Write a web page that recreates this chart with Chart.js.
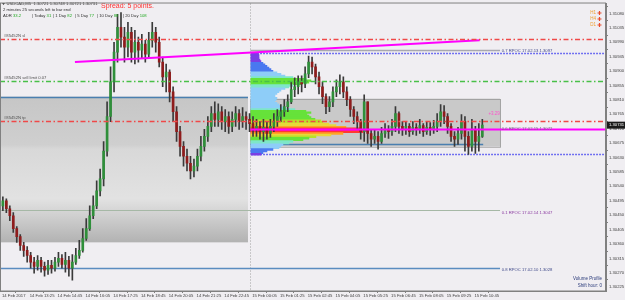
<!DOCTYPE html>
<html>
<head>
<meta charset="utf-8">
<script src="https://cdn.jsdelivr.net/npm/chart.js@4.4.0/dist/chart.umd.min.js"></script>
<style>
  html, body { margin: 0; padding: 0; background: #f0eef2; }
  #wrap { width: 625px; height: 300px; }
</style>
</head>
<body>
<div id="wrap"><canvas id="chart" width="625" height="300"></canvas></div>
<script>
// USDCAD M5, 14-15 Feb 2017 - one candle per two M5 bars (10 min)
const firstOpen = 1.30479;
const closes = [
  1.30495, 1.30470, 1.30448, 1.30408, 1.30383, 1.30355, 1.30340, 1.30324, 1.30303, 1.30290,
  1.30309, 1.30290, 1.30278, 1.30293, 1.30284, 1.30303, 1.30315, 1.30296, 1.30309, 1.30284,
  1.30303, 1.30324, 1.30340, 1.30377, 1.30408, 1.30448, 1.30479, 1.30526, 1.30563, 1.30650,
  1.30758, 1.30866, 1.30959, 1.31037, 1.31006, 1.30975, 1.31021, 1.30959, 1.30990, 1.30965,
  1.30984, 1.30953, 1.30996, 1.31021, 1.30990, 1.30928, 1.30882, 1.30897, 1.30835, 1.30773,
  1.30711, 1.30665, 1.30634, 1.30612, 1.30588, 1.30603, 1.30634, 1.30665, 1.30696, 1.30727,
  1.30767, 1.30749, 1.30773, 1.30742, 1.30758, 1.30727, 1.30749, 1.30767, 1.30742, 1.30758,
  1.30749, 1.30736, 1.30718, 1.30727, 1.30711, 1.30724, 1.30705, 1.30727, 1.30742, 1.30758,
  1.30773, 1.30789, 1.30804, 1.30842, 1.30851, 1.30866, 1.30860, 1.30891, 1.30928, 1.30913,
  1.30882, 1.30851, 1.30820, 1.30789, 1.30804, 1.30835, 1.30851, 1.30866, 1.30835, 1.30811,
  1.30780, 1.30758, 1.30742, 1.30711, 1.30804, 1.30705, 1.30687, 1.30696, 1.30680, 1.30705,
  1.30718, 1.30711, 1.30727, 1.30767, 1.30727, 1.30718, 1.30727, 1.30711, 1.30724, 1.30718,
  1.30730, 1.30711, 1.30724, 1.30718, 1.30727, 1.30742, 1.30773, 1.30758, 1.30727, 1.30696,
  1.30687, 1.30705, 1.30742, 1.30696, 1.30665, 1.30718, 1.30680, 1.30696, 1.30731
];
const highs = [
  1.30507, 1.30501, 1.30479, 1.30458, 1.30414, 1.30389, 1.30365, 1.30352, 1.30334, 1.30318,
  1.30324, 1.30318, 1.30303, 1.30309, 1.30309, 1.30318, 1.30334, 1.30327, 1.30334, 1.30321,
  1.30327, 1.30346, 1.30371, 1.30408, 1.30439, 1.30479, 1.30510, 1.30557, 1.30594, 1.30680,
  1.30804, 1.30913, 1.30990, 1.31077, 1.31083, 1.31037, 1.31052, 1.31037, 1.31027, 1.31006,
  1.31015, 1.30996, 1.31021, 1.31052, 1.31037, 1.31006, 1.30944, 1.30922, 1.30904, 1.30851,
  1.30789, 1.30727, 1.30680, 1.30656, 1.30634, 1.30625, 1.30656, 1.30696, 1.30718, 1.30758,
  1.30789, 1.30804, 1.30798, 1.30789, 1.30780, 1.30773, 1.30773, 1.30789, 1.30780, 1.30786,
  1.30773, 1.30767, 1.30758, 1.30749, 1.30742, 1.30749, 1.30742, 1.30749, 1.30767, 1.30780,
  1.30795, 1.30811, 1.30826, 1.30866, 1.30879, 1.30885, 1.30885, 1.30913, 1.30947, 1.30944,
  1.30922, 1.30897, 1.30866, 1.30829, 1.30820, 1.30851, 1.30873, 1.30888, 1.30882, 1.30851,
  1.30820, 1.30789, 1.30773, 1.30749, 1.30826, 1.30804, 1.30718, 1.30718, 1.30711, 1.30724,
  1.30736, 1.30730, 1.30749, 1.30789, 1.30773, 1.30742, 1.30742, 1.30736, 1.30742, 1.30736,
  1.30749, 1.30736, 1.30742, 1.30739, 1.30746, 1.30767, 1.30795, 1.30792, 1.30767, 1.30736,
  1.30711, 1.30724, 1.30764, 1.30758, 1.30711, 1.30749, 1.30727, 1.30736, 1.30749
];
const lows = [
  1.30464, 1.30458, 1.30433, 1.30396, 1.30365, 1.30340, 1.30321, 1.30303, 1.30284, 1.30269,
  1.30278, 1.30272, 1.30259, 1.30265, 1.30269, 1.30275, 1.30290, 1.30284, 1.30272, 1.30259,
  1.30247, 1.30296, 1.30315, 1.30334, 1.30371, 1.30402, 1.30439, 1.30470, 1.30510, 1.30541,
  1.30634, 1.30742, 1.30835, 1.30928, 1.30975, 1.30928, 1.30944, 1.30928, 1.30922, 1.30928,
  1.30941, 1.30928, 1.30941, 1.30975, 1.30959, 1.30913, 1.30851, 1.30835, 1.30804, 1.30742,
  1.30680, 1.30634, 1.30603, 1.30588, 1.30563, 1.30569, 1.30588, 1.30619, 1.30650, 1.30680,
  1.30711, 1.30727, 1.30727, 1.30718, 1.30711, 1.30705, 1.30711, 1.30727, 1.30718, 1.30724,
  1.30718, 1.30711, 1.30696, 1.30696, 1.30687, 1.30680, 1.30687, 1.30693, 1.30711, 1.30727,
  1.30742, 1.30758, 1.30773, 1.30798, 1.30820, 1.30829, 1.30835, 1.30848, 1.30879, 1.30891,
  1.30860, 1.30829, 1.30798, 1.30767, 1.30773, 1.30789, 1.30820, 1.30829, 1.30817, 1.30792,
  1.30758, 1.30736, 1.30718, 1.30687, 1.30680, 1.30674, 1.30665, 1.30674, 1.30656, 1.30674,
  1.30693, 1.30690, 1.30699, 1.30711, 1.30705, 1.30699, 1.30702, 1.30696, 1.30702, 1.30699,
  1.30705, 1.30696, 1.30702, 1.30699, 1.30705, 1.30711, 1.30727, 1.30736, 1.30705, 1.30680,
  1.30665, 1.30671, 1.30687, 1.30650, 1.30640, 1.30650, 1.30643, 1.30650, 1.30693
];

// time axis: M5 bar numbers counted from 14 Feb 12:05
const timeTickBars = [0, 16, 32, 48, 64, 80, 96, 112, 128, 144, 160, 176, 192, 208, 224, 240, 256, 272];
const timeLabels = [
  '14 Feb 2017', '14 Feb 13:25', '14 Feb 14:45', '14 Feb 16:05', '14 Feb 17:25', '14 Feb 18:45',
  '14 Feb 20:05', '14 Feb 21:25', '14 Feb 22:45', '15 Feb 00:05', '15 Feb 01:25', '15 Feb 02:45',
  '15 Feb 04:05', '15 Feb 05:25', '15 Feb 06:45', '15 Feb 08:05', '15 Feb 09:25', '15 Feb 10:45'
];
const priceTicks = [
  1.30225, 1.30270, 1.30315, 1.30360, 1.30405, 1.30450, 1.30495, 1.30540, 1.30585, 1.30630,
  1.30675, 1.30720, 1.30765, 1.30810, 1.30855, 1.30900, 1.30945, 1.30990, 1.31035, 1.31080
];

// volume profile of 15 Feb
const profilePrices = [
  1.30955, 1.30950, 1.30945, 1.30940, 1.30935, 1.30930, 1.30925, 1.30920, 1.30915, 1.30910,
  1.30905, 1.30900, 1.30895, 1.30890, 1.30885, 1.30880, 1.30875, 1.30870, 1.30865, 1.30860,
  1.30855, 1.30850, 1.30845, 1.30840, 1.30835, 1.30830, 1.30825, 1.30820, 1.30815, 1.30810,
  1.30805, 1.30800, 1.30795, 1.30790, 1.30785, 1.30780, 1.30775, 1.30770, 1.30765, 1.30760,
  1.30755, 1.30750, 1.30745, 1.30740, 1.30735, 1.30730, 1.30725, 1.30720, 1.30715, 1.30710,
  1.30705, 1.30700, 1.30695, 1.30690, 1.30685, 1.30680, 1.30675, 1.30670, 1.30665, 1.30660,
  1.30655, 1.30650, 1.30645, 1.30640
];
const profileVolumes = [
  7, 8, 8, 8, 9, 10, 12, 14, 16, 18,
  20, 22, 26, 30, 34, 42, 55, 60, 58, 50,
  42, 38, 34, 30, 28, 26, 24, 24, 26, 25,
  24, 26, 28, 30, 34, 44, 55, 60, 56, 58,
  60, 64, 70, 72, 78, 85, 95, 110, 118, 112,
  92, 80, 65, 58, 52, 42, 38, 32, 30, 28,
  22, 16, 12, 10
];
const profileStartBar = 143.3;
const pocPrice = 1.30718;
const valueAreaHigh = 1.30956;
const valueAreaLow = 1.30640;

// order lines
const orderPrices = [1.31000, 1.30870, 1.30745];
const orderLabels = ['#85452N sl', '#85452N sell limit 0.07', '#85452N tp'];

// previous-day RPOC levels
const rpocPrices = [1.30965, 1.30718, 1.30467, 1.30284];
const rpocLabels = ['0.7 RPOC 17.02.13 1.3097', '0.6 RPOC 17.02.15 1.3072', '0.1 RPOC 17.02.14 1.3047', '0.8 RPOC 17.02.10 1.3028'];

const trendBars = [42, 275];
const trendPrices = [1.30928, 1.30996];
const lastPrice = 1.30731;

// ----- styles
const BG = '#f0eef2';
const BULL = '#2f8f3a';
const BEAR = '#8f1c1c';
const WICK = '#3a3a3a';
const FONT = '"Liberation Sans", Arial, sans-serif';

const opens = closes.map((c, i) => i === 0 ? firstOpen : closes[i - 1]);
const candleBars = closes.map((c, i) => 2 * i + 0.5);

const bodyData = closes.map((c, i) => ({ x: candleBars[i], y: [opens[i], c] }));
const wickData = closes.map((c, i) => ({
  x: candleBars[i],
  y: [Math.min(lows[i], opens[i], c), Math.max(highs[i], opens[i], c)]
}));

const maxVol = Math.max(...profileVolumes);
const barsPerVolume = 1 / 1.737;
const profileData = profilePrices.map((p, i) => ({
  y: p, x: [profileStartBar, profileStartBar + profileVolumes[i] * barsPerVolume]
}));

function volumeColor(v) {
  const f = v / maxVol;
  if (f < 0.10) return '#7b3fe4';
  if (f < 0.20) return '#4a78f0';
  if (f < 0.32) return '#8ecdf8';
  if (f < 0.42) return '#7ee6c8';
  if (f < 0.55) return '#66e23a';
  if (f < 0.65) return '#b6e22a';
  if (f < 0.75) return '#e8d83a';
  if (f < 0.85) return '#ffa424';
  if (f < 0.95) return '#ff3a30';
  return '#ff1a8c';
}

function X(chart, bar) { return chart.scales.x.getPixelForValue(bar); }
function Y(chart, price) { return chart.scales.y.getPixelForValue(price); }

function hline(ctx, x0, x1, y, color, width, dash) {
  ctx.save();
  ctx.strokeStyle = color;
  ctx.lineWidth = width;
  ctx.setLineDash(dash || []);
  ctx.beginPath();
  ctx.moveTo(x0, Math.round(y) + 0.5);
  ctx.lineTo(x1, Math.round(y) + 0.5);
  ctx.stroke();
  ctx.restore();
}

function text(ctx, str, x, y, color, size, align) {
  ctx.save();
  ctx.fillStyle = color;
  ctx.font = size + 'px ' + FONT;
  ctx.textAlign = align || 'left';
  ctx.textBaseline = 'middle';
  ctx.fillText(str, x, y);
  ctx.restore();
}

const backgroundPlugin = {
  id: 'mtBackground',
  beforeDraw(chart) {
    const ctx = chart.ctx;
    ctx.save();
    ctx.fillStyle = BG;
    ctx.fillRect(0, 0, chart.width, chart.height);
    ctx.restore();
  }
};

const objectsPlugin = {
  id: 'mtObjects',
  beforeDatasetsDraw(chart) {
    const ctx = chart.ctx;
    const area = chart.chartArea;

    // yesterday's box with graded bands
    const lx0 = area.left, lx1 = X(chart, 141.6);
    const ly0 = Y(chart, 1.30820), ly1 = Y(chart, 1.30365);
    const g = ctx.createLinearGradient(0, ly0, 0, ly1);
    g.addColorStop(0, '#c6c6c6');
    g.addColorStop(0.33, '#cfcfcf');
    g.addColorStop(0.36, '#d8d8d8');
    g.addColorStop(0.7, '#e2e2e2');
    g.addColorStop(0.82, '#cfcfcf');
    g.addColorStop(1, '#b2b2b2');
    ctx.save();
    ctx.fillStyle = g;
    ctx.fillRect(lx0, ly0, lx1 - lx0, ly1 - ly0);
    ctx.restore();

    // today's box
    const rx0 = X(chart, 142.8), rx1 = X(chart, 286.7);
    const ry0 = Y(chart, 1.30814), ry1 = Y(chart, 1.30665);
    ctx.save();
    ctx.fillStyle = '#c9c9c9';
    ctx.fillRect(rx0, ry0, rx1 - rx0, ry1 - ry0);
    ctx.strokeStyle = '#a2a2a2';
    ctx.lineWidth = 1;
    ctx.strokeRect(Math.round(rx0) + 0.5, Math.round(ry0) + 0.5, rx1 - rx0, ry1 - ry0);
    ctx.restore();

    // session separator
    ctx.save();
    ctx.strokeStyle = '#a0a0a0';
    ctx.setLineDash([1, 2]);
    ctx.beginPath();
    ctx.moveTo(Math.round(X(chart, 142.8)) + 0.5, area.top);
    ctx.lineTo(Math.round(X(chart, 142.8)) + 0.5, area.bottom);
    ctx.stroke();
    ctx.restore();

    // value area borders
    hline(ctx, X(chart, 143.5), area.right, Y(chart, valueAreaHigh), '#4848f0', 1.3, [1.5, 1.5]);
    hline(ctx, X(chart, 143.5), area.right, Y(chart, valueAreaLow), '#4848f0', 1.3, [1.5, 1.5]);

    // RPOC lines
    hline(ctx, X(chart, 143), X(chart, 286.7), Y(chart, rpocPrices[0]), '#a8a8b0', 1.5);
    hline(ctx, area.left, X(chart, 286.7), Y(chart, rpocPrices[2]), '#a6b8a6', 1);
    hline(ctx, area.left, X(chart, 286.7), Y(chart, rpocPrices[3]), '#5a8cc0', 1.5);
    hline(ctx, area.left, X(chart, 141.6), Y(chart, 1.30820), '#4a7fb0', 1.5);
    hline(ctx, X(chart, 143), X(chart, 277), Y(chart, 1.30671), '#4a7fb0', 1.5);
  },
  afterDatasetsDraw(chart) {
    const ctx = chart.ctx;
    const area = chart.chartArea;

    // order lines
    const orderColors = ['#f04848', '#48c048', '#f04848'];
    orderPrices.forEach((p, i) => {
      hline(ctx, area.left, area.right, Y(chart, p), orderColors[i], 1.5, [5, 2.5, 1.5, 2.5]);
      text(ctx, orderLabels[i], area.left + 4, Y(chart, p) - 3, '#505050', 4.2);
    });

    // point of control
    hline(ctx, X(chart, 143), area.right, Y(chart, pocPrice), '#ff00ff', 2);

    const lx = X(chart, 287.7);
    text(ctx, rpocLabels[0], lx, Y(chart, rpocPrices[0]) + 1, '#404a8a', 4.2);
    text(ctx, rpocLabels[1], lx, Y(chart, rpocPrices[1]), '#707080', 4.2);
    text(ctx, rpocLabels[2], lx, Y(chart, rpocPrices[2]) + 3, '#8a3aa0', 4.2);
    text(ctx, rpocLabels[3], lx, Y(chart, rpocPrices[3]) + 2, '#404a8a', 4.2);
    text(ctx, '+3.29', X(chart, 280), Y(chart, 1.30767), '#ff55cc', 4.5);

    // info block
    ctx.save();
    ctx.fillStyle = '#303030';
    ctx.beginPath();
    ctx.moveTo(2, 3); ctx.lineTo(5, 3); ctx.lineTo(3.5, 5); ctx.closePath();
    ctx.fill();
    ctx.restore();
    text(ctx, 'USDCAD,M5  1.30721 1.30748 1.30721 1.30731', 6.5, 4, '#303030', 4.2);
    text(ctx, 'Spread: 5 points.', 101, 6, '#ff3030', 7);
    text(ctx, '2 minutes 25 seconds left to bar end', 3, 10, '#303030', 4.2);
    const adrItems = [['ADR ', '33.2'], ['| Today ', '31'], ['| 1 Day ', '82'], ['| 5 Day ', '77'],
      ['| 10 Day ', '88'], ['| 20 Day ', '108']];
    const adrX = [3, 32, 53, 75, 97, 123];
    ctx.save();
    ctx.font = '4.2px ' + FONT;
    adrItems.forEach(([s, v], i) => {
      text(ctx, s, adrX[i], 16, '#303030', 4.2);
      text(ctx, v, adrX[i] + ctx.measureText(s).width, 16, '#22aa22', 4.2);
    });
    ctx.restore();

    // timeframe markers
    ['H1', 'H4', 'D1'].forEach((s, i) => {
      const y = 13 + i * 6;
      text(ctx, s, 596, y, '#f0a030', 4.5, 'right');
      ctx.save();
      ctx.strokeStyle = '#e84a2a';
      ctx.lineWidth = 1.2;
      ctx.beginPath();
      ctx.moveTo(597.5, y); ctx.lineTo(601.5, y);
      ctx.moveTo(599.5, y - 2); ctx.lineTo(599.5, y + 2);
      ctx.stroke();
      ctx.restore();
    });

    text(ctx, 'Volume Profile', 602, 279, '#2a3a7a', 4.5, 'right');
    text(ctx, 'Shift hour: 0', 602, 286, '#2a3a7a', 4.5, 'right');

    // frame
    ctx.save();
    ctx.strokeStyle = '#808080';
    ctx.lineWidth = 1;
    ctx.strokeRect(area.left + 0.5, area.top - 0.5, area.right - area.left - 1, area.bottom - area.top + 0.5);
    ctx.restore();

    // bid label
    const by = Y(chart, lastPrice);
    ctx.save();
    ctx.fillStyle = '#1a1a1a';
    ctx.fillRect(area.right + 1, by - 3.5, 18, 7);
    ctx.restore();
    text(ctx, lastPrice.toFixed(5), area.right + 3, by, '#ffffff', 4.2);
  }
};

new Chart(document.getElementById('chart'), {
  type: 'bar',
  data: {
    datasets: [
      {
        type: 'line',
        data: trendBars.map((b, i) => ({ x: b, y: trendPrices[i] })),
        borderColor: '#ff00ff',
        borderWidth: 2,
        pointRadius: 0,
        order: 0
      },
      {
        data: bodyData,
        backgroundColor: ctx => (closes[ctx.dataIndex] >= opens[ctx.dataIndex] ? BULL : BEAR),
        barThickness: 2,
        minBarLength: 1,
        grouped: false,
        order: 1
      },
      {
        data: wickData,
        backgroundColor: WICK,
        barThickness: 1,
        grouped: false,
        order: 2
      },
      {
        indexAxis: 'y',
        data: profileData,
        backgroundColor: ctx => volumeColor(profileVolumes[ctx.dataIndex]),
        barThickness: 1.7,
        grouped: false,
        order: 3
      }
    ]
  },
  options: {
    responsive: false,
    animation: false,
    devicePixelRatio: 1,
    layout: { padding: { top: 1, left: 0, right: 0, bottom: 0 } },
    plugins: { legend: { display: false }, tooltip: { enabled: false } },
    scales: {
      x: {
        type: 'linear',
        min: -1.15,
        max: 347.7,
        offset: false,
        afterBuildTicks: s => { s.ticks = timeTickBars.map(v => ({ value: v })); },
        afterFit: s => { s.height = 9; },
        ticks: {
          autoSkip: false,
          maxRotation: 0,
          align: 'start',
          padding: 0,
          color: '#404040',
          font: { family: FONT, size: 4.2 },
          callback: v => timeLabels[timeTickBars.indexOf(v)]
        },
        grid: { drawOnChartArea: false, drawTicks: true, tickLength: 2, color: '#808080' },
        border: { color: '#808080' }
      },
      y: {
        type: 'linear',
        position: 'right',
        min: 1.30213,
        max: 1.31111,
        offset: false,
        beginAtZero: false,
        afterBuildTicks: s => { s.ticks = priceTicks.map(v => ({ value: v })); },
        afterFit: s => { s.width = 19; },
        ticks: {
          autoSkip: false,
          padding: 1,
          color: '#404040',
          font: { family: FONT, size: 4.2 },
          callback: v => v.toFixed(5)
        },
        grid: { drawOnChartArea: false, drawTicks: true, tickLength: 2, color: '#808080' },
        border: { color: '#808080' }
      }
    }
  },
  plugins: [backgroundPlugin, objectsPlugin]
});
</script>
</body>
</html>
